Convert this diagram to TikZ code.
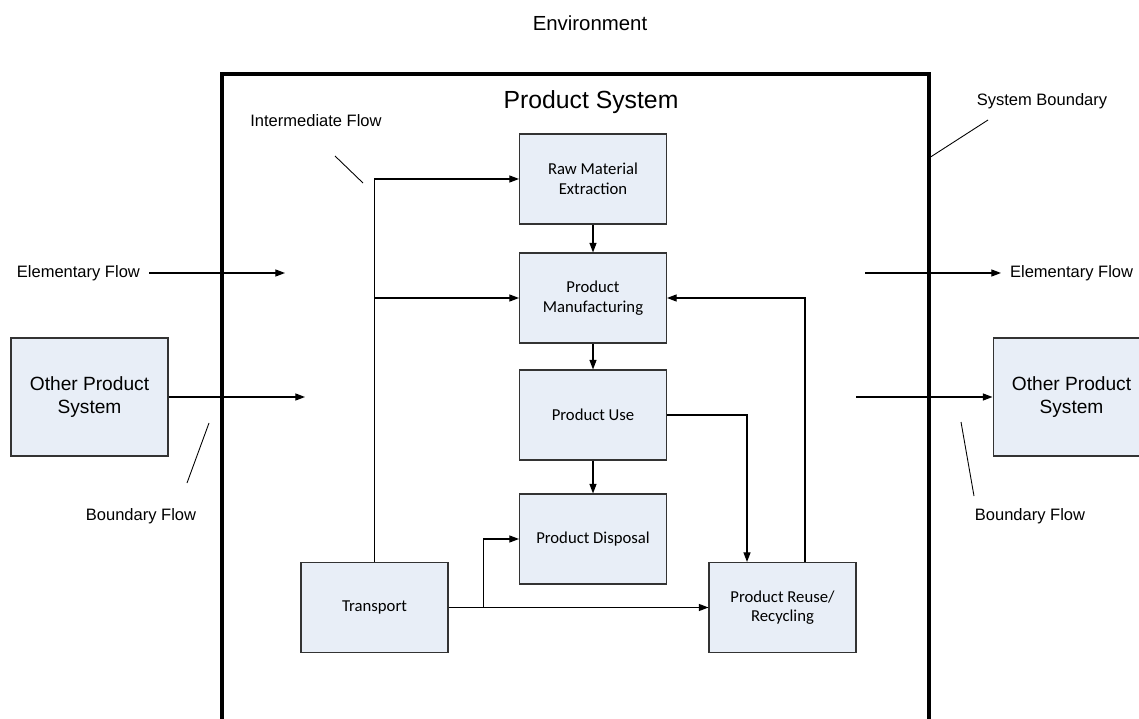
\documentclass[tikz,border=0pt]{standalone}
\usepackage{fontspec}
\setmainfont{Liberation Sans}
\newfontfamily\boxfont{Carlito}
\usepackage{xcolor}
\usepackage{tikz}
\usetikzlibrary{arrows.meta,positioning}
\definecolor{boxblue}{RGB}{232, 238, 247}

\tikzset{
  process/.style={draw=black!80, line width=0.6pt, fill=boxblue, minimum width=2.94cm, minimum height=1.8cm,
    align=center, inner sep=2pt, font=\boxfont\fontsize{9.5}{11.2}\selectfont},
  othersys/.style={process, minimum width=3.14cm, minimum height=2.36cm, font=\fontsize{10.9}{12.6}\selectfont},
  flow/.style={->, line width=0.7pt},
  leader/.style={line width=0.5pt},
  flowlabel/.style={inner sep=1pt, font=\fontsize{9.4}{11}\selectfont}
}

\begin{document}
\begin{tikzpicture}[x=0.02cm, y=-0.02cm, >={Triangle[length=5.5pt, width=4pt]}]
        \useasboundingbox (0, 0) rectangle (1139, 719);

        % Titles
        \node[font=\fontsize{11.6}{13}\selectfont] (env) at (590, 23) {Environment};
        \node[font=\fontsize{14.1}{16}\selectfont] (ps) at (591, 102) {Product System};

        % System boundary (open at the bottom)
        \draw[line width=1.9pt] (222, 719) -- (222, 74) -- (929, 74) -- (929, 719);
        \coordinate (sbEdge) at (929, 158);

        % Process boxes
        \node[process] (raw) at (593, 179) {Raw Material\\Extraction};
        \node[process] (manu) at (593, 298) {Product\\Manufacturing};
        \node[process] (use) at (593, 415) {Product Use};
        \node[process] (disp) at (593, 539) {Product Disposal};
        \node[process] (trans) at (374.5, 607.5) {Transport};
        \node[process] (reuse) at (782.5, 607.5) {Product Reuse/\\Recycling};

        % Neighbouring systems
        \node[othersys] (otherL) at (89.5, 397) {Other Product\\System};
        \node[othersys] (otherR) at (1071.5, 397) {Other Product\\System};

        % Intermediate flows
        \draw[flow] (trans.north) |- (raw.west);
        \draw[flow] (trans.north |- manu.west) -- (manu.west);
        \draw[flow] (raw) -- (manu);
        \draw[flow] (manu) -- (use);
        \draw[flow] (use) -- (disp);
        \draw[flow] (use.east) -| ([xshift=-0.71cm]reuse.north);
        \draw[flow] ([xshift=0.45cm]reuse.north) |- (manu.east);
        \draw[flow] (trans.east) -- (reuse.west);
        \draw[flow] ([xshift=0.7cm]trans.east) |- (disp.west);

        % Elementary and boundary flows across the boundary
        \node[flowlabel, anchor=east] (elemL) at (142, 273) {Elementary Flow};
        \coordinate (elemLend) at (285, 273);
        \draw[flow, shorten <=4pt] (elemL.east) -- (elemLend);
        \coordinate (bfLend) at (305, 397);
        \draw[flow] (otherL.east) -- (bfLend);

        \node[flowlabel, anchor=west] (elemR) at (1008, 273) {Elementary Flow};
        \coordinate (elemRstart) at (865, 273);
        \draw[flow, shorten >=4pt] (elemRstart) -- (elemR.west);
        \coordinate (bfRstart) at (856, 397);
        \draw[flow] (bfRstart) -- (otherR.west);

        % Callout labels with leader lines
        \node[flowlabel] (interLbl) at (316, 121) {Intermediate Flow};
        \coordinate (interA) at (335, 156);
        \coordinate (interB) at (363, 183);
        \draw[leader] (interA) -- (interB);

        \node[flowlabel] (sbLbl) at (1042, 101) {System Boundary};
        \coordinate (sbA) at (988, 120);
        \draw[leader] (sbA) -- (sbEdge);

        \node[flowlabel] (bfLLbl) at (141, 516) {Boundary Flow};
        \coordinate (bfLA) at (209, 423);
        \coordinate (bfLB) at (187, 483);
        \draw[leader] (bfLA) -- (bfLB);

        \node[flowlabel] (bfRLbl) at (1030, 516) {Boundary Flow};
        \coordinate (bfRA) at (961, 422);
        \coordinate (bfRB) at (974, 496);
        \draw[leader] (bfRA) -- (bfRB);
\end{tikzpicture}
\end{document}
